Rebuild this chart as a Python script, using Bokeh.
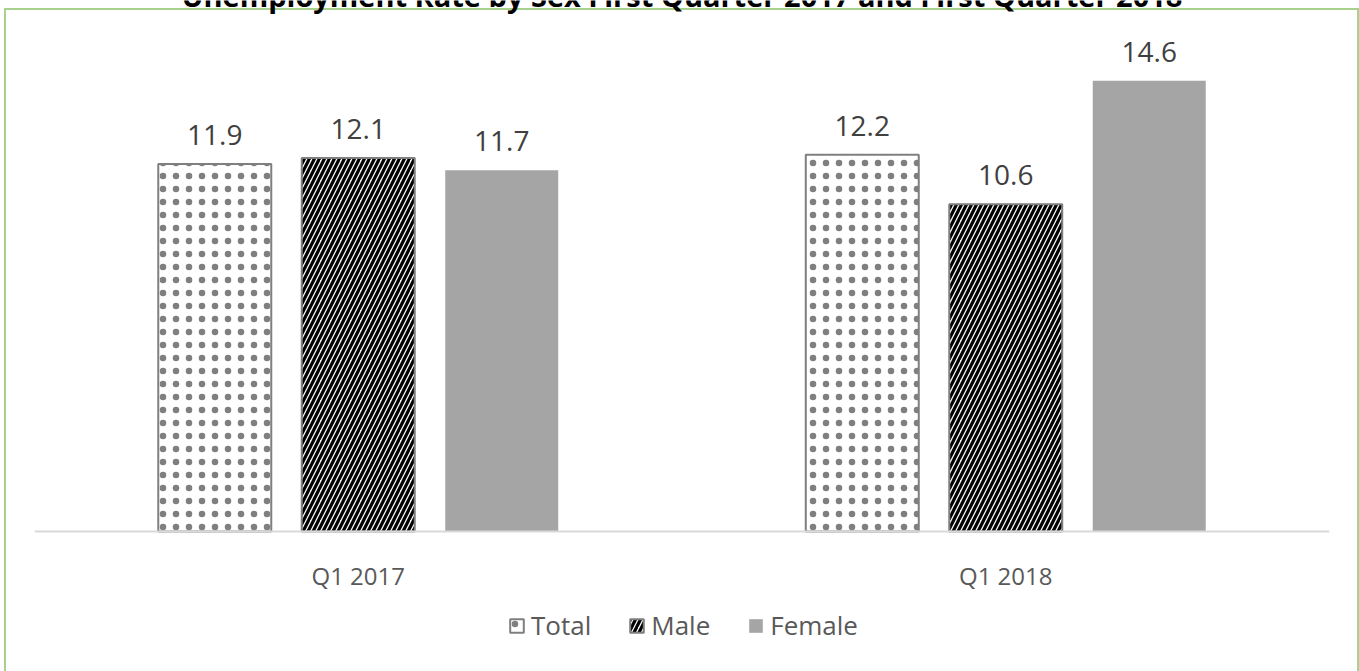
from bokeh.plotting import figure
from bokeh.models import (ColumnDataSource, FactorRange, Range1d, Label, Legend,
                          LegendItem)
from bokeh.transform import dodge
from bokeh.core.properties import value
from bokeh.embed import file_html
from bokeh.resources import INLINE

categories = ["Q1 2017", "Q1 2018"]
series = ["Total", "Male", "Female"]
total = [11.9, 12.2]
male = [12.1, 10.6]
female = [11.7, 14.6]
title_text = "Unemployment Rate by Sex First Quarter 2017 and First Quarter 2018"

src = ColumnDataSource(dict(
    cat=categories,
    Total=total, Male=male, Female=female,
    Total_lbl=[f"{v:.1f}" for v in total],
    Male_lbl=[f"{v:.1f}" for v in male],
    Female_lbl=[f"{v:.1f}" for v in female],
))

FONT = "Open Sans"
GREEN = "#a9d18e"
bg = (f"linear-gradient({GREEN},{GREEN}) 4px 8px / 2px 700px no-repeat, "
      f"linear-gradient({GREEN},{GREEN}) 4px 8px / 1355px 2px no-repeat, "
      f"linear-gradient({GREEN},{GREEN}) 1357px 8px / 2px 700px no-repeat, white")

H = 671
BASE = 531          # pixel row of the zero line
PX_PER_UNIT = 494 / 16.0

p = figure(x_range=FactorRange(*categories, range_padding=0),
           y_range=Range1d(-(H - BASE) / PX_PER_UNIT, BASE / PX_PER_UNIT),
           width=1359, height=H,
           output_backend="svg", toolbar_location=None,
           min_border_left=34, min_border_right=30,
           min_border_top=0, min_border_bottom=0,
           background_fill_color=None, border_fill_color=None,
           styles={"background": bg})
p.outline_line_color = None
p.xgrid.visible = False
p.ygrid.visible = False
p.yaxis.visible = False

ax = p.xaxis[0]
ax.fixed_location = 0
ax.axis_line_color = "#d9d9d9"
ax.axis_line_width = 2
ax.major_tick_line_color = None
ax.minor_tick_line_color = None
ax.major_label_text_font = FONT
ax.major_label_text_font_size = "24px"
ax.major_label_text_color = "#595959"
ax.major_label_standoff = 21

off = 0.2216
bw = 0.1745
offsets = {"Total": -off, "Male": 0.0, "Female": off}

r_total = p.vbar(x=dodge("cat", offsets["Total"], range=p.x_range), top="Total",
                 width=bw, source=src, fill_color="white", line_color="#7f7f7f",
                 line_width=2, hatch_pattern="dot", hatch_color="black",
                 hatch_scale=13, hatch_weight=0.8, hatch_alpha=0.5)
r_male = p.vbar(x=dodge("cat", offsets["Male"], range=p.x_range), top="Male",
                width=bw, source=src, fill_color="white", line_color="#7f7f7f",
                line_width=2, hatch_pattern="right_diagonal_line", hatch_color="black",
                hatch_scale=10, hatch_weight=3.2)
r_female = p.vbar(x=dodge("cat", offsets["Female"], range=p.x_range), top="Female",
                  width=bw, source=src, fill_color="#a5a5a5", line_color=None)

for s in series:
    p.text(x=dodge("cat", offsets[s], range=p.x_range), y=s, text=s + "_lbl",
           source=src, text_align="center", text_baseline="alphabetic",
           y_offset=-29, text_font=value(FONT), text_font_size="28px",
           text_color="#404040")

p.add_layout(Label(x=1.0, y=(BASE + 5) / PX_PER_UNIT, text=title_text,
                   text_align="center", text_baseline="alphabetic",
                   text_font=FONT, text_font_size="29px",
                   text_font_style="bold", text_color="black"))

legend = Legend(items=[LegendItem(label="Total", renderers=[r_total]),
                       LegendItem(label="Male", renderers=[r_male]),
                       LegendItem(label="Female", renderers=[r_female])],
                orientation="horizontal", location=(474, 28),
                glyph_width=17, glyph_height=17, label_standoff=6, spacing=37,
                label_text_font=FONT, label_text_font_size="26px",
                label_text_color="#595959", border_line_color=None,
                background_fill_alpha=0, padding=0, margin=0)
p.add_layout(legend, "center")

open("out.html", "w").write(file_html(p, INLINE))
